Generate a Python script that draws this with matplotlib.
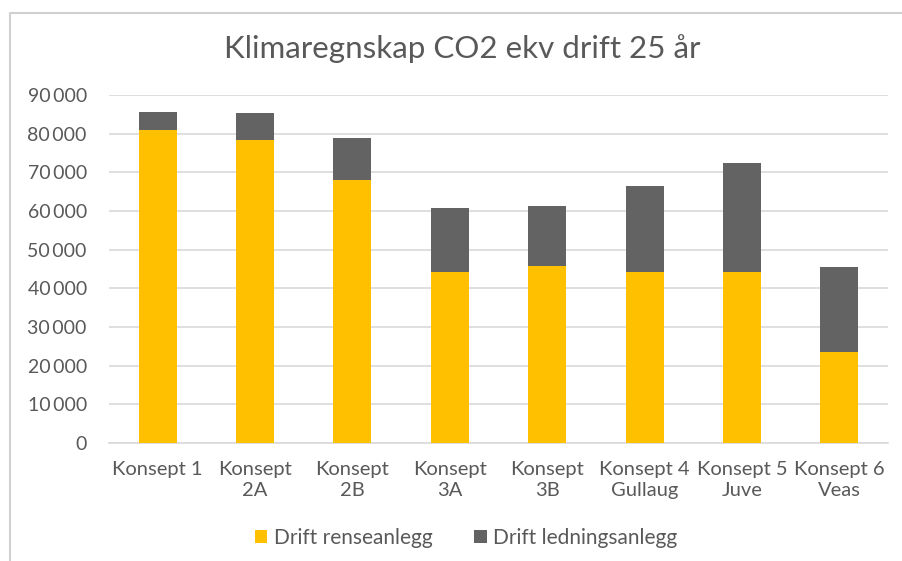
import matplotlib.pyplot as plt
import matplotlib.lines as mlines
import numpy as np

categories = ['Konsept 1', 'Konsept\n2A', 'Konsept\n2B', 'Konsept\n3A', 'Konsept\n3B',
              'Konsept 4\nGullaug', 'Konsept 5\nJuve', 'Konsept 6\nVeas']
renseanlegg = [80850, 78400, 68100, 44300, 45900, 44300, 44300, 23500]
totals = [85500, 85250, 78950, 60900, 61400, 66350, 72400, 45600]
ledningsanlegg = [t - r for t, r in zip(totals, renseanlegg)]
yticks = list(range(0, 90001, 10000))

text_color = '#595959'
plt.rcParams['font.family'] = ['Lato', 'DejaVu Sans']

fig = plt.figure(figsize=(9.03, 5.61), dpi=100)
ax = fig.add_axes([109 / 903, 1 - 443 / 561, (888 - 109) / 903, (443 - 95) / 561])

# chart frame (left + top edge only, the rest is cropped off)
frame_x = [10 / 903, 10 / 903, 1.0]
frame_y = [0.0, 1 - 13 / 561, 1 - 13 / 561]
fig.lines.append(mlines.Line2D(frame_x, frame_y, transform=fig.transFigure,
                               color='#d0d0d0', linewidth=1.5))

x = np.arange(len(categories))
w = 0.39
ax.bar(x, renseanlegg, w, color='#FFC000', label='Drift renseanlegg', zorder=3)
ax.bar(x, ledningsanlegg, w, bottom=renseanlegg, color='#636363',
       label='Drift ledningsanlegg', zorder=3)

ax.set_xlim(-0.5, len(categories) - 0.5)
ax.set_ylim(0, 90000)
ax.set_yticks(yticks)
ax.set_yticklabels([f'{v:,}'.replace(',', '\u2009') for v in yticks], fontsize=14, color=text_color)
ax.set_xticks(x)
ax.set_xticklabels(categories, fontsize=14.5, color=text_color, linespacing=1.3)
ax.tick_params(length=0)
ax.tick_params(axis='y', pad=16)
ax.tick_params(axis='x', pad=13)
ax.yaxis.grid(True, color='#d9d9d9', linewidth=1.2, zorder=0)
for s in ['top', 'right', 'left']:
    ax.spines[s].set_visible(False)
ax.spines['bottom'].set_color('#d9d9d9')
ax.spines['bottom'].set_linewidth(1.2)

fig.text(462 / 903, 1 - 58 / 561, 'Klimaregnskap CO2 ekv drift 25 år', ha='center', va='baseline',
         fontsize=22.5, color=text_color)

fig.legend(loc='center', bbox_to_anchor=(466 / 903, 1 - 538 / 561), ncol=2, frameon=False,
           fontsize=15, labelcolor=text_color, handlelength=0.6, handleheight=0.6,
           handletextpad=0.3, columnspacing=2.0)

fig.savefig('out.png', dpi=100)
